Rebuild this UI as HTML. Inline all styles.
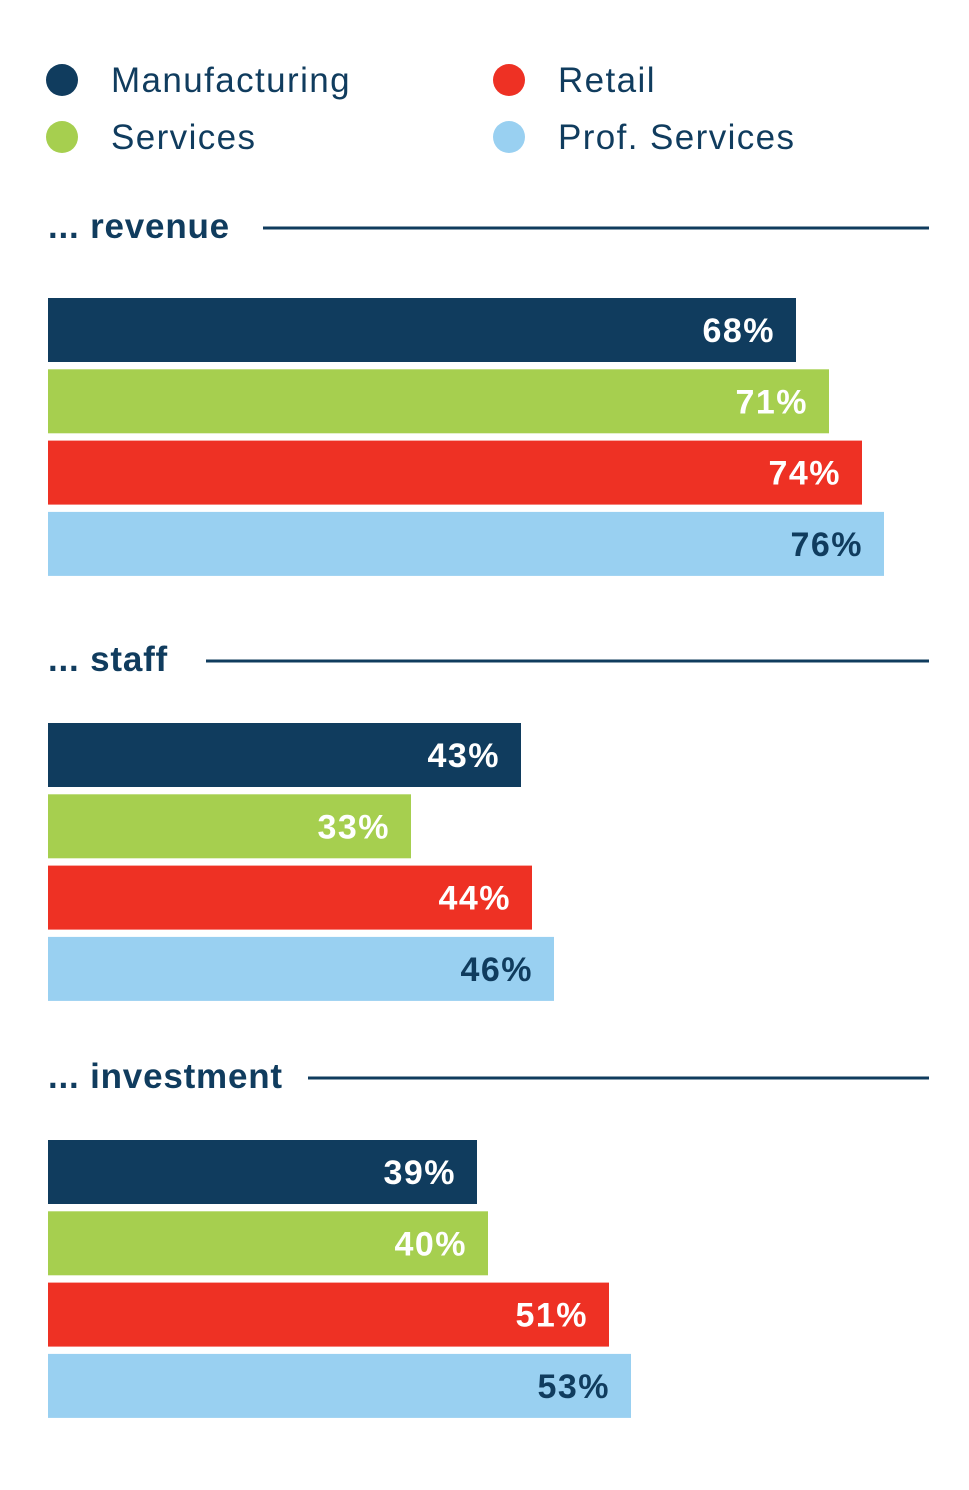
<!DOCTYPE html>
<html><head><meta charset="utf-8"><style>
body{margin:0;background:#fff;width:969px;height:1490px;overflow:hidden;font-family:"Liberation Sans",sans-serif;}
svg{display:block}
</style></head><body>
<svg id="chart" width="969" height="1490" xmlns="http://www.w3.org/2000/svg"></svg>
<script>
const series = ["Manufacturing","Services","Retail","Prof. Services"];
const colors = ["#103c5e","#a6cf4f","#ee3124","#99d0f1"];
const labelColors = ["#fff","#fff","#fff","#103c5e"];
const groups = ["revenue","staff","investment"];
const revenueValues = [68,71,74,76];
const staffValues = [43,33,44,46];
const investmentValues = [39,40,51,53];
const allValues = [revenueValues, staffValues, investmentValues];

const svg = document.getElementById('chart');
const NS = "http://www.w3.org/2000/svg";
const x0 = 48, pxPerPct = 11;
function xScale(v){ return x0 + v * pxPerPct; }
function mk(tag, attrs){ const e=document.createElementNS(NS,tag); for(const k in attrs) e.setAttribute(k,attrs[k]); svg.appendChild(e); return e; }

const legPos = [[62,80],[62,137],[509,80],[509,137]];
const legOrder = [0,1,2,3];
legOrder.forEach((si,i)=>{
  const [cx,cy] = legPos[i];
  const g = document.createElementNS(NS,'g'); svg.appendChild(g);
  
  
  const c = document.createElementNS(NS,'circle');
  c.setAttribute('cx',cx); c.setAttribute('cy',cy); c.setAttribute('r',16); c.setAttribute('fill',colors[si]);
  
  
  g.appendChild(c);
  const t = document.createElementNS(NS,'text');
  t.setAttribute('x',cx+49); t.setAttribute('y',cy+12); t.setAttribute('font-size','35'); t.setAttribute('fill','#103c5e');
  t.setAttribute('letter-spacing','1.4');
  t.textContent = series[si];
  
  
  g.appendChild(t);
});

const headingY = [228, 661, 1078];
const lineStart = [263, 206, 308];
const barTop = [298, 723, 1140];
const step = 71.3, barH = 64;
groups.forEach((gname,gi)=>{
  const t = mk('text',{x:48,y:headingY[gi]+10,'font-size':'35','font-weight':'bold',fill:'#103c5e','letter-spacing':'0.8'});
  t.textContent = '... ' + gname;
  
  
  const ln = mk('line',{x1:lineStart[gi],x2:929,y1:headingY[gi],y2:headingY[gi],stroke:'#103c5e','stroke-width':3});
  
  
  allValues[gi].forEach((v,si)=>{
    const y = barTop[gi] + si*step;
    const r = mk('rect',{x:x0,y:y,width:xScale(v)-x0,height:barH,fill:colors[si]});
    
    
    const lt = mk('text',{x:xScale(v)-21,y:y+barH/2+12,'text-anchor':'end','font-size':'34','font-weight':'bold',fill:labelColors[si],'letter-spacing':'1.5'});
    lt.textContent = v + '%';
    
    
  });
});
</script>
</body></html>
